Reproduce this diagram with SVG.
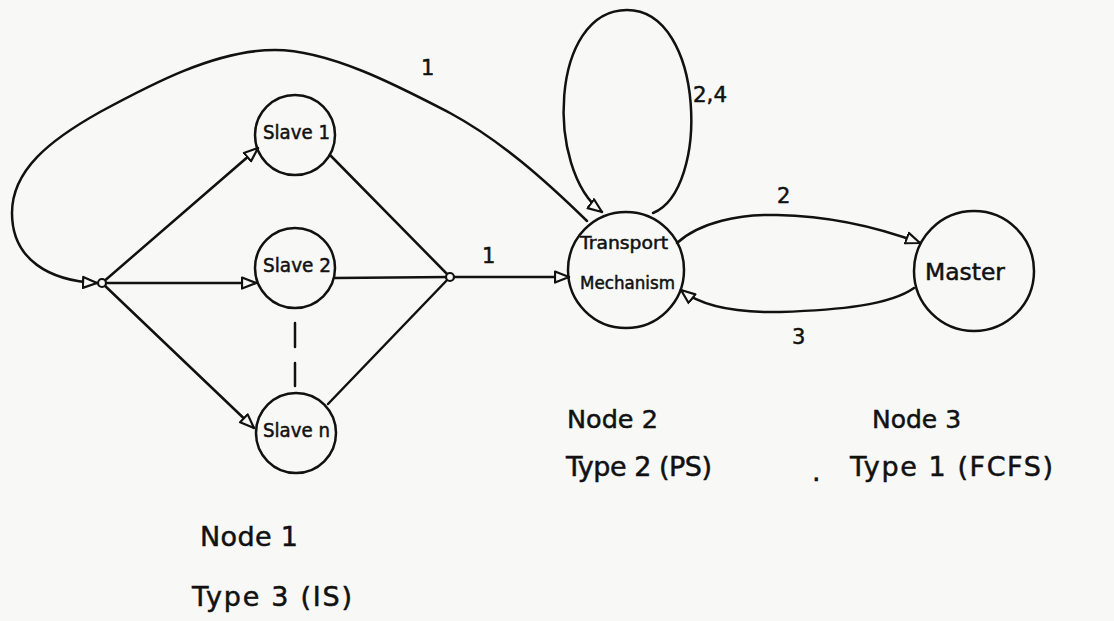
<svg xmlns="http://www.w3.org/2000/svg" width="1114" height="621" viewBox="0 0 1114 621">
<style>
.ln{fill:none;stroke:#111;stroke-width:2.5;stroke-linecap:round;stroke-linejoin:round}
.nd{fill:none;stroke:#111;stroke-width:2.5}
.t{font-family:"DejaVu Sans","Liberation Sans",sans-serif;fill:#111;stroke:#111;stroke-width:0.5}
.big{font-size:27px}
.sm{font-size:19px}
.lb{font-size:21px}
</style>
<defs>
<marker id="ah" markerUnits="userSpaceOnUse" viewBox="0 0 16 14" refX="15" refY="7" markerWidth="16" markerHeight="14" orient="auto">
<path d="M1,1.5 L15,7 L1,12.5 Z" fill="#f8f8f6" stroke="#111" stroke-width="2.2" stroke-linejoin="round"/>
</marker>
</defs>
<rect x="0" y="0" width="1114" height="621" fill="#f8f8f6"/>

<g id="connectors">
<path class="ln" marker-end="url(#ah)" d="M587,221 C545,180 500,140 450,113 C400,87 330,50 275,50 C215,50 150,85 100,112 C50,140 12,170 12,213 C12,260 50,281 97,283"/>
<path class="ln" marker-end="url(#ah)" d="M102,283 L258,148"/>
<path class="ln" marker-end="url(#ah)" d="M102,283 L256,283"/>
<path class="ln" marker-end="url(#ah)" d="M102,283 L254,428"/>
<path class="ln" d="M330,155 L450,277"/>
<path class="ln" d="M335,278 L450,277"/>
<path class="ln" d="M328,404 L450,277"/>
<path class="ln" stroke-dasharray="24,16" d="M295,323 L295,386"/>
<path class="ln" marker-end="url(#ah)" d="M454,277 L569,277"/>
<path class="ln" marker-end="url(#ah)" d="M653,213 C710,190 705,10 627,10 C550,10 545,170 602,212"/>
<path class="ln" marker-end="url(#ah)" d="M677,243 C700,222 740,214 777,215 C830,216 880,228 920,243"/>
<path class="ln" marker-end="url(#ah)" d="M914,288 C890,305 840,310 780,312 C730,313 700,305 681,290"/>
<circle cx="102" cy="283" r="4" fill="#f8f8f6" stroke="#111" stroke-width="2.2"/>
<circle cx="450" cy="277" r="4" fill="#f8f8f6" stroke="#111" stroke-width="2.2"/>
<text class="t lb" x="421" y="75">1</text>
<text class="t lb" x="482" y="263">1</text>
<text class="t lb" x="693" y="102" textLength="34" lengthAdjust="spacingAndGlyphs">2,4</text>
<text class="t lb" x="777" y="203">2</text>
<text class="t lb" x="792" y="344">3</text>
</g>

<g id="slave1">
<circle class="nd" cx="295" cy="135" r="40"/>
<text class="t sm" x="263" y="139" textLength="67" lengthAdjust="spacingAndGlyphs">Slave 1</text>
</g>
<g id="slave2">
<circle class="nd" cx="295" cy="268" r="40"/>
<text class="t sm" x="263" y="272" textLength="68" lengthAdjust="spacingAndGlyphs">Slave 2</text>
</g>
<g id="slaven">
<circle class="nd" cx="296" cy="433" r="40"/>
<text class="t sm" x="263" y="437" textLength="67" lengthAdjust="spacingAndGlyphs">Slave n</text>
</g>
<g id="transport">
<circle class="nd" cx="626" cy="270" r="58"/>
<text class="t" font-size="17" x="580" y="249" textLength="88" lengthAdjust="spacingAndGlyphs">Transport</text>
<text class="t" font-size="17" x="580" y="289" textLength="95" lengthAdjust="spacingAndGlyphs">Mechanism</text>
</g>
<g id="master">
<circle class="nd" cx="974" cy="271" r="60"/>
<text class="t" font-size="23" x="925" y="280" textLength="80" lengthAdjust="spacingAndGlyphs">Master</text>
</g>

<g id="captions">
<text class="t big" x="200" y="546" textLength="98" lengthAdjust="spacing">Node 1</text>
<text class="t big" x="192" y="606" textLength="160" lengthAdjust="spacing">Type 3 (IS)</text>
<text class="t" font-size="25.5" x="567" y="428">Node 2</text>
<text class="t big" x="566" y="476" textLength="146" lengthAdjust="spacing">Type 2 (PS)</text>
<text class="t" font-size="25" x="872" y="428">Node 3</text>
<text class="t big" x="850" y="476" textLength="203" lengthAdjust="spacing">Type 1 (FCFS)</text>
<text class="t big" x="812" y="481">.</text>
</g>
</svg>
